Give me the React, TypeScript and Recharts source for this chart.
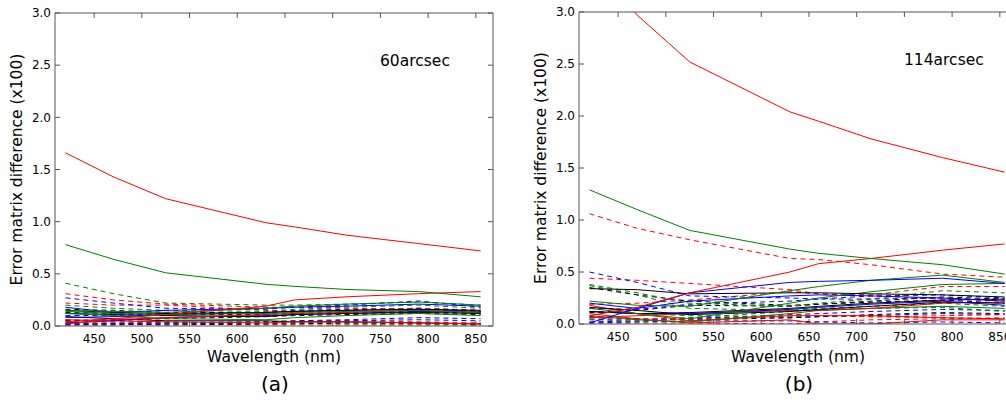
import React from "react";
import { LineChart, Line, XAxis, YAxis } from "recharts";

const wavelengths = [420, 470, 525, 630, 660, 715, 790, 855];
const xTicks = [450, 500, 550, 600, 650, 700, 750, 800, 850];
const yTicks = [0, 0.5, 1.0, 1.5, 2.0, 2.5, 3.0];

// panel (a): 60arcsec, solid lines
const aRed1 = [1.66, 1.43, 1.22, 0.99, 0.95, 0.87, 0.79, 0.72];
const aGreen1 = [0.78, 0.64, 0.51, 0.4, 0.38, 0.35, 0.33, 0.28];
const aRed2 = [0.04, 0.07, 0.11, 0.19, 0.25, 0.28, 0.31, 0.33];
const aGreen2 = [0.15, 0.14, 0.13, 0.17, 0.19, 0.21, 0.23, 0.2];
const aBlue1 = [0.18, 0.13, 0.15, 0.17, 0.18, 0.19, 0.21, 0.19];
const aBlack1 = [0.12, 0.11, 0.1, 0.09, 0.11, 0.12, 0.13, 0.12];
const aGreen3 = [0.12, 0.1, 0.07, 0.06, 0.08, 0.1, 0.12, 0.1];
const aBlue2 = [0.08, 0.09, 0.11, 0.13, 0.14, 0.15, 0.16, 0.14];
const aRed3 = [0.02, 0.06, 0.08, 0.11, 0.12, 0.13, 0.15, 0.13];
const aBlack2 = [0.09, 0.07, 0.05, 0.05, 0.04, 0.04, 0.03, 0.02];
const aRed4 = [0.06, 0.05, 0.04, 0.03, 0.04, 0.04, 0.03, 0.02];
const aBlue3 = [0.03, 0.05, 0.08, 0.1, 0.11, 0.12, 0.14, 0.13];
const aBlack3 = [0.15, 0.13, 0.12, 0.13, 0.14, 0.15, 0.16, 0.15];
const aGreen4 = [0.14, 0.12, 0.11, 0.12, 0.13, 0.14, 0.15, 0.13];
// panel (a): dashed lines
const aGreenD1 = [0.41, 0.31, 0.22, 0.2, 0.2, 0.21, 0.23, 0.2];
const aRedD1 = [0.31, 0.25, 0.21, 0.18, 0.18, 0.17, 0.16, 0.14];
const aBlueD1 = [0.27, 0.22, 0.17, 0.16, 0.18, 0.2, 0.24, 0.18];
const aRedD2 = [0.22, 0.2, 0.2, 0.15, 0.14, 0.15, 0.17, 0.15];
const aGreenD2 = [0.2, 0.17, 0.15, 0.14, 0.16, 0.18, 0.2, 0.17];
const aBlackD1 = [0.16, 0.15, 0.13, 0.13, 0.14, 0.15, 0.17, 0.14];
const aBlueD2 = [0.1, 0.1, 0.12, 0.13, 0.15, 0.16, 0.17, 0.15];
const aBlackD2 = [0.05, 0.06, 0.07, 0.09, 0.1, 0.11, 0.12, 0.11];
const aRedD3 = [0.03, 0.03, 0.03, 0.02, 0.03, 0.03, 0.02, 0.02];
const aBlueD3 = [0.02, 0.02, 0.03, 0.04, 0.05, 0.06, 0.08, 0.07];
const aBlueD4 = [0.01, 0.01, 0.02, 0.03, 0.04, 0.05, 0.06, 0.05];
const aRedD4 = [0.05, 0.04, 0.03, 0.04, 0.05, 0.05, 0.04, 0.03];
const aGreenD3 = [0.06, 0.05, 0.04, 0.03, 0.03, 0.02, 0.02, 0.01];
const aBlackD3 = [0.02, 0.02, 0.01, 0.02, 0.02, 0.03, 0.03, 0.02];
const aRedD5 = [0.01, 0.02, 0.02, 0.01, 0.01, 0.01, 0.01, 0.01];
const aBlackD4 = [0.13, 0.12, 0.11, 0.11, 0.12, 0.13, 0.14, 0.12];

// panel (b): 114arcsec, solid lines
const bRed1 = [3.5, 2.97, 2.52, 2.04, 1.95, 1.78, 1.6, 1.46];
const bGreen1 = [1.29, 1.1, 0.9, 0.72, 0.68, 0.63, 0.57, 0.48];
const bRed2 = [0.08, 0.16, 0.3, 0.5, 0.58, 0.63, 0.71, 0.77];
const bBlue1 = [0.01, 0.15, 0.3, 0.4, 0.41, 0.42, 0.44, 0.39];
const bGreen2 = [0.22, 0.18, 0.17, 0.32, 0.36, 0.42, 0.47, 0.4];
const bBlack1 = [0.34, 0.33, 0.29, 0.3, 0.3, 0.29, 0.28, 0.26];
const bGreen3 = [0.15, 0.1, 0.05, 0.2, 0.25, 0.31, 0.38, 0.39];
const bBlue2 = [0.2, 0.15, 0.22, 0.27, 0.28, 0.27, 0.25, 0.22];
const bBlack2 = [0.12, 0.1, 0.11, 0.15, 0.17, 0.2, 0.23, 0.24];
const bBlue3 = [0.12, 0.1, 0.1, 0.14, 0.16, 0.19, 0.22, 0.18];
const bRed3 = [0.18, 0.1, 0.03, 0.08, 0.08, 0.08, 0.06, 0.05];
const bRed4 = [0.1, 0.05, 0.01, 0.04, 0.0, 0.0, 0.04, 0.04];
const bBlack3 = [0.16, 0.13, 0.09, 0.12, 0.14, 0.17, 0.21, 0.2];
const bGreen4 = [0.08, 0.04, 0.02, 0.1, 0.13, 0.15, 0.17, 0.15];
const bRed5 = [0.06, 0.08, 0.1, 0.13, 0.13, 0.15, 0.2, 0.21];
// panel (b): dashed lines
const bRedD1 = [1.06, 0.92, 0.81, 0.63, 0.62, 0.57, 0.48, 0.45];
const bBlueD1 = [0.5, 0.4, 0.27, 0.25, 0.24, 0.24, 0.25, 0.23];
const bRedD2 = [0.44, 0.42, 0.39, 0.33, 0.29, 0.28, 0.36, 0.36];
const bGreenD1 = [0.38, 0.3, 0.2, 0.17, 0.2, 0.24, 0.32, 0.3];
const bBlackD1 = [0.35, 0.28, 0.22, 0.18, 0.19, 0.22, 0.26, 0.24];
const bGreenD2 = [0.37, 0.28, 0.15, 0.13, 0.15, 0.17, 0.2, 0.17];
const bRedD3 = [0.19, 0.2, 0.23, 0.31, 0.29, 0.27, 0.24, 0.22];
const bBlueD2 = [0.15, 0.14, 0.19, 0.22, 0.24, 0.27, 0.28, 0.25];
const bBlackD2 = [0.11, 0.13, 0.18, 0.17, 0.19, 0.21, 0.23, 0.2];
const bGreenD3 = [0.05, 0.02, 0.06, 0.12, 0.14, 0.15, 0.16, 0.12];
const bBlueD3 = [0.02, 0.03, 0.05, 0.09, 0.1, 0.12, 0.14, 0.13];
const bBlueD4 = [0.04, 0.04, 0.06, 0.06, 0.07, 0.08, 0.1, 0.09];
const bRedD4 = [0.01, 0.01, 0.01, 0.0, 0.02, 0.04, 0.05, 0.06];
const bGreenD4 = [0.12, 0.1, 0.08, 0.07, 0.08, 0.07, 0.06, 0.05];
const bBlueD5 = [0.01, 0.02, 0.03, 0.03, 0.02, 0.01, 0.02, 0.01];
const bBlackD3 = [0.07, 0.05, 0.04, 0.06, 0.07, 0.09, 0.11, 0.1];
const bRedD5 = [0.06, 0.05, 0.04, 0.09, 0.08, 0.07, 0.08, 0.09];

const RED = "#ff0000";
const GREEN = "#008000";
const BLUE = "#0000ff";
const BLACK = "#000000";

type Series = [number[], string, boolean];

const seriesA: Series[] = [
  [aRedD3, RED, true], [aRedD4, RED, true], [aRedD5, RED, true],
  [aBlueD3, BLUE, true], [aBlueD4, BLUE, true], [aGreenD3, GREEN, true],
  [aBlackD3, BLACK, true], [aBlackD2, BLACK, true], [aBlackD4, BLACK, true],
  [aBlackD1, BLACK, true], [aBlueD2, BLUE, true], [aGreenD2, GREEN, true],
  [aRedD2, RED, true], [aBlueD1, BLUE, true], [aRedD1, RED, true], [aGreenD1, GREEN, true],
  [aBlack2, BLACK, false], [aRed4, RED, false], [aBlue3, BLUE, false],
  [aBlack1, BLACK, false], [aGreen3, GREEN, false], [aBlue2, BLUE, false],
  [aRed3, RED, false], [aBlack3, BLACK, false], [aGreen4, GREEN, false],
  [aBlue1, BLUE, false], [aGreen2, GREEN, false], [aRed2, RED, false],
  [aGreen1, GREEN, false], [aRed1, RED, false],
];

const seriesB: Series[] = [
  [bRedD4, RED, true], [bBlueD5, BLUE, true], [bBlueD4, BLUE, true],
  [bBlueD3, BLUE, true], [bGreenD3, GREEN, true], [bGreenD4, GREEN, true],
  [bBlackD3, BLACK, true], [bRedD5, RED, true], [bBlackD2, BLACK, true],
  [bBlueD2, BLUE, true], [bRedD3, RED, true], [bGreenD2, GREEN, true],
  [bBlackD1, BLACK, true], [bGreenD1, GREEN, true], [bRedD2, RED, true],
  [bBlueD1, BLUE, true], [bRedD1, RED, true],
  [bRed4, RED, false], [bRed3, RED, false], [bGreen4, GREEN, false],
  [bRed5, RED, false], [bBlack3, BLACK, false], [bBlue3, BLUE, false],
  [bBlack2, BLACK, false], [bBlue2, BLUE, false], [bGreen3, GREEN, false],
  [bBlack1, BLACK, false], [bGreen2, GREEN, false], [bBlue1, BLUE, false],
  [bRed2, RED, false], [bGreen1, GREEN, false], [bRed1, RED, false],
];

const FONT = "'DejaVu Sans', sans-serif";
const FRAME = "#555555";
const W = 500;
const H = 402;

const emptyTick = () => <g />;

function Panel({
  left,
  plotTop,
  plotBottom,
  series,
  title,
  letter,
}: {
  left: number;
  plotTop: number;
  plotBottom: number;
  series: Series[];
  title: string;
  letter: string;
}) {
  const rows = wavelengths.map((w, i) => {
    const row: Record<string, number> = { w };
    series.forEach((s, k) => {
      row[`s${k}`] = s[0][i];
    });
    return row;
  });

  const tickStyle = { fill: "#000", fontSize: 12, fontFamily: FONT };
  const textStyle = { fontFamily: FONT, fill: "#000" };
  const midY = (plotTop + plotBottom) / 2;

  return (
    <div style={{ position: "absolute", left, top: 0, width: W, height: H }}>
      <LineChart
        width={W}
        height={H}
        data={rows}
        margin={{ top: plotTop, right: 7, left: 0, bottom: H - plotBottom - 30 }}
      >
        <XAxis
          xAxisId="b"
          dataKey="w"
          type="number"
          domain={[409, 868]}
          ticks={xTicks}
          interval={0}
          allowDataOverflow
          height={30}
          tickSize={-5}
          tickMargin={13}
          stroke={FRAME}
          tick={tickStyle}
        />
        <XAxis
          xAxisId="t"
          orientation="top"
          mirror
          dataKey="w"
          type="number"
          domain={[409, 868]}
          ticks={xTicks}
          interval={0}
          allowDataOverflow
          height={30}
          tickSize={5}
          stroke={FRAME}
          tick={emptyTick}
        />
        <YAxis
          yAxisId="l"
          type="number"
          domain={[0, 3]}
          ticks={yTicks}
          interval={0}
          allowDataOverflow
          width={55}
          tickSize={-5}
          tickMargin={9}
          stroke={FRAME}
          tick={tickStyle}
          tickFormatter={(v: number) => v.toFixed(1)}
        />
        <YAxis
          yAxisId="r"
          orientation="right"
          mirror
          type="number"
          domain={[0, 3]}
          ticks={yTicks}
          interval={0}
          allowDataOverflow
          width={40}
          tickSize={5}
          stroke={FRAME}
          tick={emptyTick}
        />
        {series.map((s, k) => (
          <Line
            key={k}
            xAxisId="b"
            yAxisId="l"
            dataKey={`s${k}`}
            type="linear"
            stroke={s[1]}
            strokeWidth={1}
            strokeDasharray={s[2] ? "5 4" : undefined}
            dot={false}
            activeDot={false}
            isAnimationActive={false}
          />
        ))}
      </LineChart>
      <svg
        width={W}
        height={H}
        style={{ position: "absolute", left: 0, top: 0, pointerEvents: "none" }}
      >
        <text
          x={17}
          y={midY}
          transform={`rotate(-90 17 ${midY})`}
          textAnchor="middle"
          dominantBaseline="central"
          fontSize={15.5}
          style={textStyle}
        >
          Error matrix difference (x100)
        </text>
        <text x={274} y={362} textAnchor="middle" fontSize={15.5} style={textStyle}>
          Wavelength (nm)
        </text>
        <text x={275} y={391} textAnchor="middle" fontSize={20} style={textStyle}>
          {letter}
        </text>
        <text x={380} y={plotTop + 53} textAnchor="start" fontSize={15.5} style={textStyle}>
          {title}
        </text>
      </svg>
    </div>
  );
}

export default function App() {
  return (
    <div
      style={{
        position: "absolute",
        left: 0,
        top: 0,
        width: 1006,
        height: 402,
        overflow: "hidden",
        background: "#fff",
      }}
    >
      <Panel left={0} plotTop={13} plotBottom={326} series={seriesA} title="60arcsec" letter="(a)" />
      <Panel left={524} plotTop={12} plotBottom={324} series={seriesB} title="114arcsec" letter="(b)" />
    </div>
  );
}
